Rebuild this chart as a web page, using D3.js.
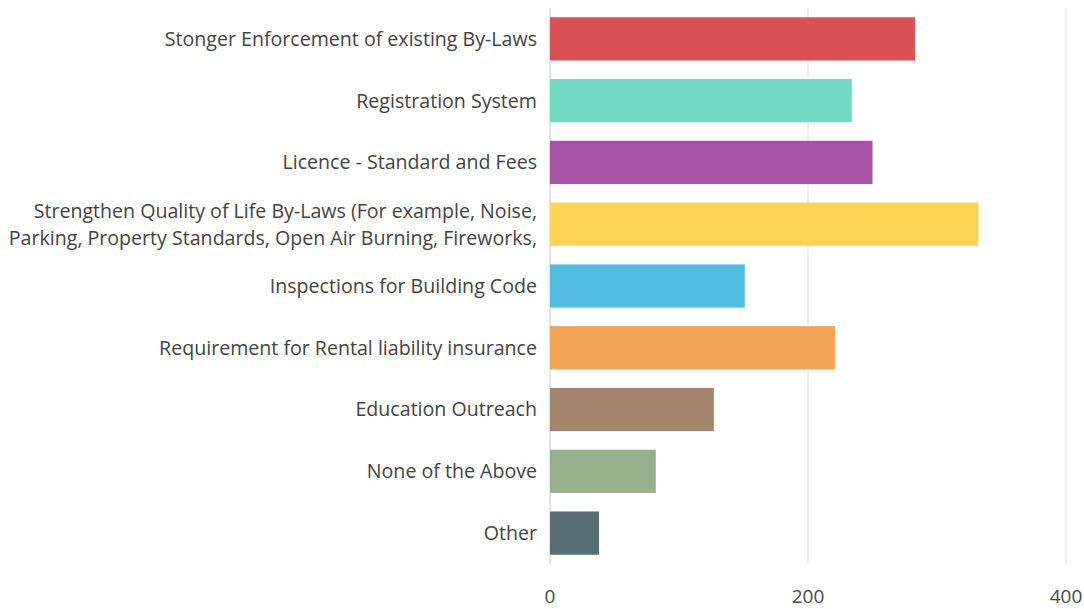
<!DOCTYPE html>
<html>
<head>
<meta charset="utf-8">
<script src="https://cdn.jsdelivr.net/npm/d3@7"></script>
<style>
  html, body { margin: 0; padding: 0; background: #fff; }
  svg text { font-family: "Open Sans", Lato, sans-serif; }
</style>
</head>
<body>
<svg id="chart" width="1084" height="609"></svg>
<script>
// Survey responses per option
const categories = [
  "Stonger Enforcement of existing By-Laws",
  "Registration System",
  "Licence - Standard and Fees",
  "Strengthen Quality of Life By-Laws (For example, Noise,|Parking, Property Standards, Open Air Burning, Fireworks,",
  "Inspections for Building Code",
  "Requirement for Rental liability insurance",
  "Education Outreach",
  "None of the Above",
  "Other"
];
const values = [283, 234, 250, 332, 151, 221, 127, 82, 38];
const barColors = ["#d64c4f", "#6dd8c1", "#a44ca2", "#fdd44c", "#4dbae1", "#f2a04f", "#a08166", "#94ae88", "#516a72"];
const tickValues = [0, 200, 400];

const svg = d3.select("#chart");
const plotLeft = 550, plotRight = 1066, plotTop = 8, plotBottom = 564;

const x = d3.scaleLinear().domain([0, 400]).range([plotLeft, plotRight]);
const y = d3.scaleBand().domain(d3.range(categories.length)).range([plotTop, plotBottom])
  .paddingInner(0.3).paddingOuter(0.15);

// vertical grid lines
svg.append("g").selectAll("line").data(tickValues).join("line")
  .attr("x1", d => x(d)).attr("x2", d => x(d))
  .attr("y1", plotTop).attr("y2", plotBottom)
  .attr("stroke", d => d === 0 ? "#c8c8c8" : "#e0e0e0")
  .attr("stroke-width", 1);

// bars
svg.append("g").selectAll("rect").data(values).join("rect")
  .attr("x", x(0))
  .attr("y", (d, i) => y(i))
  .attr("width", d => x(d) - x(0))
  .attr("height", y.bandwidth())
  .attr("fill", (d, i) => barColors[i])
  .attr("fill-opacity", 0.97);

// category labels
const labelSize = 19.6;
const labels = svg.append("g").selectAll("text").data(categories).join("text")
  .attr("x", plotLeft - 13)
  .attr("y", (d, i) => y(i) + y.bandwidth() / 2)
  .attr("text-anchor", "end")
  .attr("fill", "#444")
  .style("font-size", labelSize + "px");
labels.each(function(d) {
  const lines = d.split("|");
  const t = d3.select(this);
  lines.forEach((ln, k) => {
    t.append("tspan")
      .attr("x", plotLeft - 13)
      .attr("dy", k === 0 ? (0.35 - (lines.length - 1) * 0.69) + "em" : "1.38em")
      .text(ln);
  });
});

// x axis tick labels
svg.append("g").selectAll("text").data(tickValues).join("text")
  .attr("x", d => x(d))
  .attr("y", 603)
  .attr("text-anchor", "middle")
  .attr("fill", "#4a4a4a")
  .style("font-size", "19px")
  .text(d => d);
</script>
</body>
</html>
